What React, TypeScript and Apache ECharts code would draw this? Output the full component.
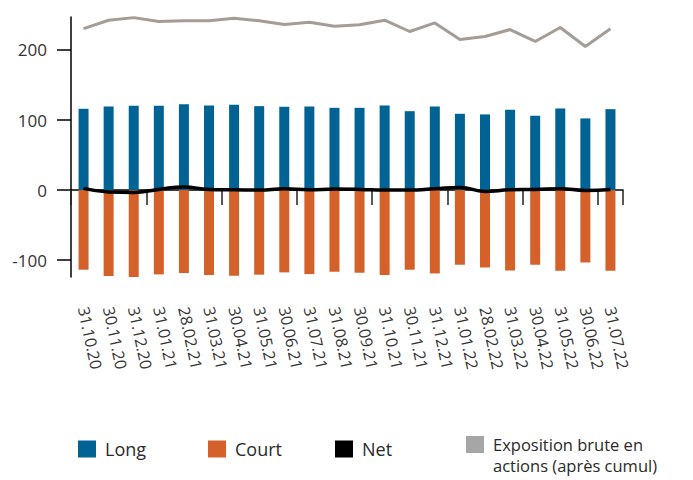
import React, { useEffect, useRef } from "react";
import * as echarts from "echarts";

const categories = [
  "31.10.20", "30.11.20", "31.12.20", "31.01.21", "28.02.21", "31.03.21",
  "30.04.21", "31.05.21", "30.06.21", "31.07.21", "31.08.21", "30.09.21",
  "31.10.21", "30.11.21", "31.12.21", "31.01.22", "28.02.22", "31.03.22",
  "30.04.22", "31.05.22", "30.06.22", "31.07.22",
];
const longValues = [116, 119.3, 120.3, 120.3, 122.6, 120.7, 121.7, 119.8, 118.9, 119.3, 117.4, 117.4, 120.7, 112.6, 119.3, 108.9, 108, 114.6, 106.1, 116.5, 102.3, 115.5];
const courtValues = [-113.6, -122.6, -124, -120.3, -118.3, -121.2, -122.2, -120.7, -117.4, -119.8, -116.5, -117.9, -121.2, -113.6, -118.9, -106.5, -110.4, -114.6, -106.5, -115.1, -103.3, -115.1];
const netValues = [2.4, -2.6, -3.3, 1, 4.5, 1, 0.5, 0, 1.9, 0.5, 1.4, 1, 0, 0, 1.9, 3.8, -1.9, 0.5, 1, 1.9, -0.5, 1];
const grossValues = [230.5, 242.4, 246.1, 240.5, 241.5, 241.5, 245.3, 241.5, 236.3, 239.6, 233.9, 235.8, 242.4, 226.3, 238.6, 215, 219.2, 229.1, 212.1, 232, 205, 230.1];
const yTickValues = [-100, 0, 100, 200];

const names = ["Long", "Court", "Net", "Exposition brute en actions (après cumul)"];
const grossLegendLines = ["Exposition brute en", "actions (après cumul)"];
const colors = ["#006394", "#d4612a", "#000000", "#a59d95"];

export default function App() {
  const ref = useRef<HTMLDivElement>(null);
  useEffect(() => {
    if (!ref.current) return;
    const chart = echarts.init(ref.current, null, { renderer: "svg" });
    const font = "'Open Sans', 'Noto Sans', sans-serif";
    const legendText = { fontSize: 18, color: "#2a2a2a", fontFamily: font, padding: [0, 0, 0, 4] };
    const legendBase = {
      orient: "horizontal",
      icon: "rect",
      itemWidth: 18,
      itemHeight: 17,
      padding: 0,
      textStyle: legendText,
    };
    chart.setOption({
      animation: false,
      textStyle: { fontFamily: font },
      grid: { left: 71, right: 70, top: 17, bottom: 203, containLabel: false },
      legend: [
        { ...legendBase, left: 78, top: 440, data: [names[0]] },
        { ...legendBase, left: 208, top: 440, data: [names[1]] },
        { ...legendBase, left: 335, top: 440, data: [names[2]] },
        {
          ...legendBase,
          left: 466,
          top: 436,
          data: [{ name: names[3], itemStyle: { color: "#a6a6a6" } }],
          formatter: () => grossLegendLines[0],
          textStyle: { ...legendText, fontSize: 16.5, lineHeight: 17 },
        },
      ],
      graphic: [
        {
          type: "text",
          left: 493,
          top: 457,
          silent: true,
          style: { text: grossLegendLines[1], fontSize: 16.5, lineHeight: 17, fill: "#2a2a2a", fontFamily: font },
        },
      ],
      xAxis: [
        {
          type: "category",
          data: categories,
          position: "bottom",
          axisLine: { onZero: true, lineStyle: { color: "#000", width: 1.5 } },
          axisTick: { show: true, length: 15, lineStyle: { color: "#222", width: 1.5 } },
          axisLabel: { show: false },
          splitLine: { show: false },
        },
        {
          type: "category",
          data: categories,
          position: "bottom",
          axisLine: { show: false, onZero: false },
          axisTick: { show: false },
          axisLabel: { rotate: -78, margin: 30, fontSize: 16, color: "#333", interval: 0 },
          splitLine: { show: false },
        },
      ],
      yAxis: {
        type: "value",
        min: -124,
        max: 247,
        axisLine: { show: true, lineStyle: { color: "#000", width: 1.5 } },
        axisTick: { show: true, length: 14, customValues: yTickValues, lineStyle: { color: "#000", width: 1.5 } },
        axisLabel: { customValues: yTickValues, fontSize: 17, color: "#333", margin: 24 },
        splitLine: { show: false },
      },
      series: [
        {
          name: names[0],
          type: "bar",
          stack: "pos",
          barWidth: 10,
          data: longValues,
          itemStyle: { color: colors[0] },
          z: 2,
        },
        {
          name: names[1],
          type: "bar",
          stack: "pos",
          barWidth: 10,
          data: courtValues,
          itemStyle: { color: colors[1] },
          z: 2,
        },
        {
          name: names[2],
          type: "line",
          data: netValues,
          smooth: true,
          showSymbol: false,
          symbol: "none",
          lineStyle: { color: colors[2], width: 3.5 },
          itemStyle: { color: colors[2] },
          z: 4,
        },
        {
          name: names[3],
          type: "line",
          data: grossValues,
          showSymbol: false,
          symbol: "none",
          lineStyle: { color: colors[3], width: 3 },
          itemStyle: { color: colors[3] },
          z: 4,
        },
      ],
    });
    return () => chart.dispose();
  }, []);
  return <div ref={ref} style={{ width: 693, height: 480, position: "absolute", left: 0, top: 0 }} />;
}
